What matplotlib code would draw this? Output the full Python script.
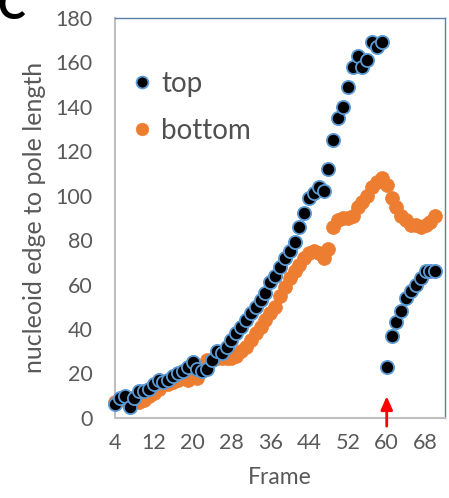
import numpy as np
import matplotlib.pyplot as plt

plt.rcParams['font.family'] = ['Lato', 'DejaVu Sans']

# frames 4..70
frames = np.arange(4, 71)

top = [6, 9, 10, 5, 9, 12, 12, 13, 15, 17, 16, 17, 19, 20, 21, 23, 25, 22, 21, 22,
       26, 30, 29, 32, 35, 38, 41, 44, 47, 50, 53, 56, 61, 64, 68, 72, 75, 79, 86, 92,
       99, 101, 104, 102, 112, 125, 135, 140, 149, 158, 163, 158, 161, 169, 167, 169,
       23, 37, 43, 48, 54, 57, 60, 63, 66, 66, 66]

bottom = [7, 8, 9, 9, 8, 7, 8, 10, 11, 13, 15, 15, 16, 17, 18, 17, 19, 18, 22, 26,
          26, 27, 27, 27, 27, 28, 30, 32, 35, 38, 41, 44, 47, 50, 55, 59, 63, 66, 69, 72,
          74, 75, 74, 72, 76, 86, 89, 90, 90, 91, 95, 97, 100, 104, 106, 108,
          105, 99, 95, 91, 89, 87, 87, 86, 87, 88, 91]

xticks = [4, 12, 20, 28, 36, 44, 52, 60, 68]
yticks = [0, 20, 40, 60, 80, 100, 120, 140, 160, 180]
arrow_frame = 60

fig = plt.figure(figsize=(4.49, 4.98), dpi=100)
ax = fig.add_axes([0.256, 0.161, 0.735, 0.803])

ax.plot(frames, top, 'o', ms=9.5, mfc='black', mec='#5b9bd5', mew=1.3,
        label='top', clip_on=False, zorder=3)
ax.plot(frames, bottom, 'o', ms=10, mfc='#ed7d31', mec='#ed7d31', mew=0.5,
        label='bottom', clip_on=False, zorder=2)

ax.set_xlim(4, 72)
ax.set_ylim(0, 180)
ax.set_xticks(xticks)
ax.set_yticks(yticks)
ax.tick_params(length=0, labelsize=15.5, colors='#595959')
ax.tick_params(axis='y', pad=16)
ax.tick_params(axis='x', pad=11)

for s in ['left', 'bottom']:
    ax.spines[s].set_color('#bfbfbf')
    ax.spines[s].set_linewidth(1.5)
for s in ['top', 'right']:
    ax.spines[s].set_color('#5b7fa8')
    ax.spines[s].set_linewidth(1.0)

ax.set_xlabel('Frame', fontsize=16.5, color='#595959', labelpad=10)
ax.set_ylabel('nucleoid edge to pole length', fontsize=18, color='#595959', labelpad=7)

ax.legend(loc='upper left', bbox_to_anchor=(-0.045, 0.93), frameon=False,
          fontsize=20, markerscale=0.9, handlelength=1.2, handletextpad=0.1,
          labelspacing=0.75, labelcolor='#505050')

# red arrow marking the split
ax.annotate('', xy=(arrow_frame, 11), xytext=(arrow_frame, -5),
            arrowprops=dict(arrowstyle='-|>,head_width=0.35,head_length=0.8',
                            color='red', lw=2),
            annotation_clip=False)

fig.text(-0.005, 0.962, 'C', fontsize=30, fontweight='bold', ha='left', va='baseline')

plt.savefig('out.png', dpi=100)
